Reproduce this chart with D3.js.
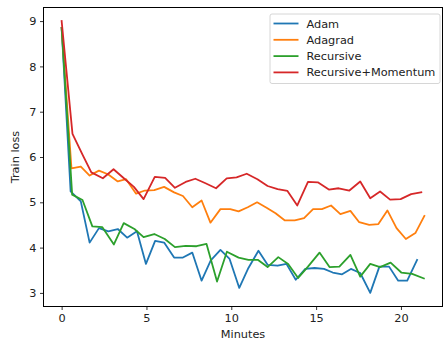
<!DOCTYPE html>
<html>
<head>
<meta charset="utf-8">
<script src="https://cdn.jsdelivr.net/npm/d3@7"></script>
<style>
  body { margin: 0; background: #fff; }
  svg { font-family: "DejaVu Sans", sans-serif; }
</style>
</head>
<body>
<div id="chart"></div>
<script>
// minutes (x) and train loss (y) for each optimizer
const adamX = [0, 0.53, 1.13, 1.65, 2.20, 2.75, 3.31, 3.86, 4.44, 4.97, 5.51, 6.04, 6.63, 7.15, 7.70, 8.25, 8.79, 9.36, 9.90, 10.47, 11.01, 11.60, 12.14, 12.73, 13.25, 13.80, 14.36, 14.91, 15.46, 15.98, 16.53, 17.05, 17.60, 18.19, 18.73, 19.30, 19.84, 20.37, 20.95]
const adamY = [8.85, 5.24, 5.02, 4.11, 4.43, 4.36, 4.41, 4.22, 4.36, 3.64, 4.15, 4.11, 3.78, 3.78, 3.89, 3.27, 3.72, 3.95, 3.75, 3.11, 3.55, 3.93, 3.62, 3.60, 3.64, 3.29, 3.53, 3.55, 3.53, 3.45, 3.41, 3.53, 3.44, 3.00, 3.58, 3.58, 3.27, 3.27, 3.73]

const adagradX = [0, 0.58, 1.13, 1.65, 2.20, 2.73, 3.31, 3.80, 4.39, 4.91, 5.46, 6.04, 6.63, 7.15, 7.70, 8.25, 8.77, 9.36, 9.94, 10.43, 10.97, 11.52, 12.08, 12.61, 13.16, 13.74, 14.29, 14.82, 15.34, 15.88, 16.43, 17.02, 17.54, 18.13, 18.67, 19.20, 19.74, 20.29, 20.85, 21.38]
const adagradY = [8.85, 5.75, 5.79, 5.59, 5.70, 5.62, 5.46, 5.51, 5.19, 5.26, 5.27, 5.34, 5.22, 5.14, 4.89, 5.04, 4.55, 4.85, 4.85, 4.80, 4.89, 5.00, 4.88, 4.76, 4.60, 4.60, 4.65, 4.85, 4.85, 4.93, 4.74, 4.81, 4.56, 4.50, 4.52, 4.82, 4.43, 4.19, 4.32, 4.70]

const recursiveX = [0, 0.62, 1.23, 1.81, 2.40, 3.08, 3.66, 4.29, 4.83, 5.46, 6.08, 6.68, 7.31, 7.95, 8.54, 9.16, 9.74, 10.43, 11.01, 11.56, 12.14, 12.77, 13.35, 13.94, 14.52, 15.20, 15.79, 16.37, 17.02, 17.60, 18.19, 18.77, 19.39, 20.02, 20.66, 21.35]
const recursiveY = [8.85, 5.17, 5.05, 4.47, 4.45, 4.07, 4.54, 4.41, 4.23, 4.30, 4.19, 4.01, 4.04, 4.03, 4.08, 3.25, 3.91, 3.78, 3.73, 3.73, 3.57, 3.79, 3.64, 3.33, 3.58, 3.89, 3.57, 3.58, 3.84, 3.36, 3.64, 3.57, 3.67, 3.45, 3.42, 3.32]

const momentumX = [0, 0.64, 1.23, 1.75, 2.43, 3.06, 3.70, 4.26, 4.83, 5.49, 6.10, 6.68, 7.31, 7.88, 8.48, 9.10, 9.73, 10.31, 10.91, 11.54, 12.14, 12.73, 13.31, 13.89, 14.52, 15.10, 15.75, 16.33, 16.96, 17.60, 18.19, 18.77, 19.36, 19.98, 20.60, 21.20]
const momentumY = [9.0, 6.51, 6.05, 5.66, 5.53, 5.73, 5.52, 5.34, 5.07, 5.56, 5.54, 5.32, 5.45, 5.52, 5.42, 5.31, 5.53, 5.55, 5.63, 5.51, 5.36, 5.29, 5.25, 4.93, 5.45, 5.44, 5.28, 5.31, 5.26, 5.46, 5.09, 5.24, 5.06, 5.07, 5.18, 5.22]

const names = ["Adam", "Adagrad", "Recursive", "Recursive+Momentum"]
const xTicks = [0, 5, 10, 15, 20]
const yTicks = [3, 4, 5, 6, 7, 8, 9]

const colors = ["#1f77b4", "#ff7f0e", "#2ca02c", "#d62728"]

const series = [
    [adamX, adamY],
    [adagradX, adagradY],
    [recursiveX, recursiveY],
    [momentumX, momentumY]
].map((s, i) => ({
    name: names[i],
    color: colors[i],
    points: s[0].map((x, j) => ({ x: x, y: s[1][j] }))
}))

const W = 445, H = 343
const margin = { top: 7.5, right: 2.5, bottom: 36.5, left: 43.5 }
const innerW = W - margin.left - margin.right
const innerH = H - margin.top - margin.bottom

// matplotlib style 5% padding around the data
const allX = series.flatMap(s => s.points.map(p => p.x))
const allY = series.flatMap(s => s.points.map(p => p.y))
const xMin = d3.min(allX), xMax = d3.max(allX)
const yMin = d3.min(allY), yMax = d3.max(allY)
const xPad = (xMax - xMin) * 0.05, yPad = (yMax - yMin) * 0.05

const x = d3.scaleLinear().domain([xMin - xPad, xMax + xPad]).range([0, innerW])
const y = d3.scaleLinear().domain([yMin - yPad, yMax + yPad]).range([innerH, 0])

const svg = d3.select("#chart").append("svg")
    .attr("width", W)
    .attr("height", H)

const g = svg.append("g")
    .attr("transform", "translate(" + margin.left + "," + margin.top + ")")

const line = d3.line().x(d => x(d.x)).y(d => y(d.y))

g.selectAll(".series")
    .data(series)
    .enter().append("path")
    .attr("class", "series")
    .attr("d", d => line(d.points))
    .style("fill", "none")
    .style("stroke", d => d.color)
    .style("stroke-width", 1.8)
    .style("stroke-linejoin", "round")
    .style("stroke-linecap", "square")

// axes
const xAxis = g.append("g")
    .attr("transform", "translate(0," + innerH + ")")
    .call(d3.axisBottom(x).tickValues(xTicks).tickFormat(d3.format("d")).tickSize(3.5).tickPadding(3.5))
const yAxis = g.append("g")
    .call(d3.axisLeft(y).tickValues(yTicks).tickFormat(d3.format("d")).tickSize(3.5).tickPadding(3.5))

;[xAxis, yAxis].forEach(a => {
    a.select(".domain").remove()
    a.selectAll("line").style("stroke", "#000").style("stroke-width", 0.8)
    a.selectAll("text").style("font-size", "11.3px").style("fill", "#222")
        .style("font-family", "DejaVu Sans, sans-serif")
})

// frame
g.append("rect")
    .attr("x", 0)
    .attr("y", 0)
    .attr("width", innerW)
    .attr("height", innerH)
    .style("fill", "none")
    .style("stroke", "#000")
    .style("stroke-width", 1)

g.append("text")
    .attr("x", innerW / 2)
    .attr("y", innerH + 31)
    .attr("text-anchor", "middle")
    .style("font-size", "11.3px")
    .style("fill", "#222")
    .text("Minutes")

g.append("text")
    .attr("transform", "translate(" + (-25) + "," + (innerH / 2) + ") rotate(-90)")
    .attr("text-anchor", "middle")
    .style("font-size", "11.3px")
    .style("fill", "#222")
    .text("Train loss")

// legend
const lg = g.append("g")
    .attr("transform", "translate(" + (270 - margin.left) + "," + (14 - margin.top) + ")")

lg.append("rect")
    .attr("x", 0)
    .attr("y", 0)
    .attr("width", 170)
    .attr("height", 69.5)
    .attr("rx", 2)
    .style("fill", "#fff")
    .style("fill-opacity", 0.8)
    .style("stroke", "#ccc")
    .style("stroke-width", 0.8)

series.forEach((s, i) => {
    const yy = 9.5 + i * 16.3
    lg.append("line")
        .attr("x1", 3.5)
        .attr("x2", 28.5)
        .attr("y1", yy)
        .attr("y2", yy)
        .style("stroke", s.color)
        .style("stroke-width", 1.8)
    lg.append("text")
        .attr("x", 36.5)
        .attr("y", yy + 4)
        .style("font-size", "11.3px")
        .style("fill", "#222")
        .text(s.name)
})
</script>
</body>
</html>
